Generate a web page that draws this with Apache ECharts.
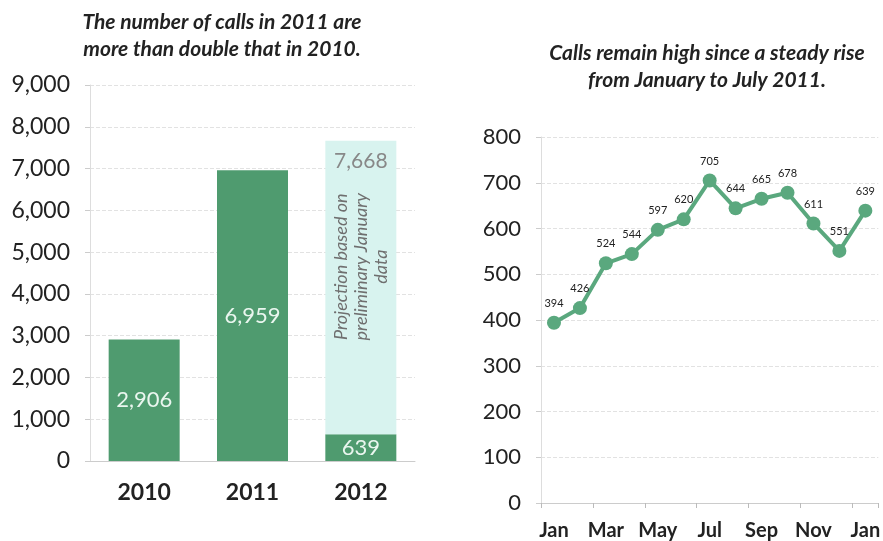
<!DOCTYPE html>
<html><head><meta charset="utf-8">
<script src="https://cdn.jsdelivr.net/npm/echarts@6/dist/echarts.min.js"></script>
<style>html,body{margin:0;padding:0;background:#fff}#c{width:883px;height:541px}</style>
</head><body><div id="c"></div>
<script>
const barYears = ['2010', '2011', '2012'];
const callsByYear = [2906, 6959, 639];
const projection2012 = 7668;
const barTicks = [0, 1000, 2000, 3000, 4000, 5000, 6000, 7000, 8000, 9000];

const months = ['Jan','Feb','Mar','Apr','May','Jun','Jul','Aug','Sep','Oct','Nov','Dec','Jan'];
const monthlyCalls = [394, 426, 524, 544, 597, 620, 705, 644, 665, 678, 611, 551, 639];

const projectionNote = 'Projection based on\npreliminary January\ndata';

const dark = '#4f9b6f';
const light = '#d8f3ef';
const lineGreen = '#5aa87e';
const font = 'Lato, "Open Sans", sans-serif';
const fmt = v => v.toLocaleString('en-US');

const chart = echarts.init(document.getElementById('c'));
chart.setOption({
  backgroundColor: '#fff',
  animation: false,
  textStyle: { fontFamily: font },
  title: [
    { text: 'The number of calls in 2011 are\nmore than double that in 2010.', left: 217, top: 4, textAlign: 'center',
      textStyle: { fontFamily: font, fontSize: 21, fontWeight: 'bold', fontStyle: 'italic', color: '#222', lineHeight: 27 } },
    { text: 'Calls remain high since a steady rise\nfrom January to July 2011.', left: 702, top: 35, textAlign: 'center',
      textStyle: { fontFamily: font, fontSize: 21, fontWeight: 'bold', fontStyle: 'italic', color: '#222', lineHeight: 27 } }
  ],
  grid: [
    { left: 90, top: 85, width: 325, height: 376 },
    { left: 541, top: 137, width: 342, height: 366 }
  ],
  xAxis: [
    { type: 'category', gridIndex: 0, data: barYears,
      axisLine: { lineStyle: { color: '#ccc' } }, axisTick: { show: false },
      axisLabel: { fontSize: 23, fontWeight: 'bold', color: '#222', margin: 20, fontFamily: font } },
    { type: 'category', gridIndex: 1, data: months, boundaryGap: true,
      axisLine: { lineStyle: { color: '#ccc' } }, axisTick: { show: true, lineStyle: { color: '#bbb' } },
      axisLabel: { interval: 1, fontSize: 20, fontWeight: 'bold', color: '#222', margin: 18, fontFamily: font } }
  ],
  yAxis: [
    { type: 'value', gridIndex: 0, min: barTicks[0], max: barTicks[barTicks.length - 1], interval: 1000,
      axisLine: { show: true, lineStyle: { color: '#ddd' } }, axisTick: { show: true, lineStyle: { color: '#ccc' } },
      splitLine: { lineStyle: { color: '#e2e2e2', type: 'dashed' } },
      axisLabel: { fontSize: 23, color: '#222', margin: 20, formatter: v => fmt(v), fontFamily: font } },
    { type: 'value', gridIndex: 1, min: 0, max: 800, interval: 100,
      axisLine: { show: true, lineStyle: { color: '#ddd' } }, axisTick: { show: true, lineStyle: { color: '#ccc' } },
      splitLine: { lineStyle: { color: '#e2e2e2', type: 'dashed' } },
      axisLabel: { fontSize: 22, color: '#222', margin: 20, fontFamily: font } }
  ],
  series: [
    { type: 'bar', xAxisIndex: 0, yAxisIndex: 0, stack: 'y', barWidth: 71, data: callsByYear,
      itemStyle: { color: dark },
      label: { show: true, position: 'inside', color: '#eaf6ef', fontSize: 22, fontFamily: font, formatter: p => fmt(p.value) } },
    { type: 'bar', xAxisIndex: 0, yAxisIndex: 0, stack: 'y', barWidth: 71,
      data: barYears.map((y, i) => i === barYears.length - 1 ? projection2012 - callsByYear[i] : null),
      itemStyle: { color: light },
      label: { show: true, position: 'insideTop', distance: 10, color: '#888', fontSize: 21, fontFamily: font,
        formatter: () => fmt(projection2012) } },
    { type: 'line', xAxisIndex: 1, yAxisIndex: 1, data: monthlyCalls,
      lineStyle: { color: lineGreen, width: 4 }, itemStyle: { color: lineGreen },
      symbol: 'circle', symbolSize: 14,
      label: { show: true, position: 'top', distance: 7, fontSize: 11, color: '#222', fontFamily: font } }
  ]
});

const pNote = chart.convertToPixel({ xAxisIndex: 0, yAxisIndex: 0 }, [barYears.length - 1, 4650]);
chart.setOption({
  graphic: [{
    type: 'text', x: pNote[0], y: pNote[1], rotation: Math.PI / 2, z: 100,
    style: { text: projectionNote, fill: '#6f6f6f', fontSize: 18, fontStyle: 'italic', fontFamily: font,
      align: 'center', verticalAlign: 'middle', lineHeight: 20 }
  }]
});
</script></body></html>
